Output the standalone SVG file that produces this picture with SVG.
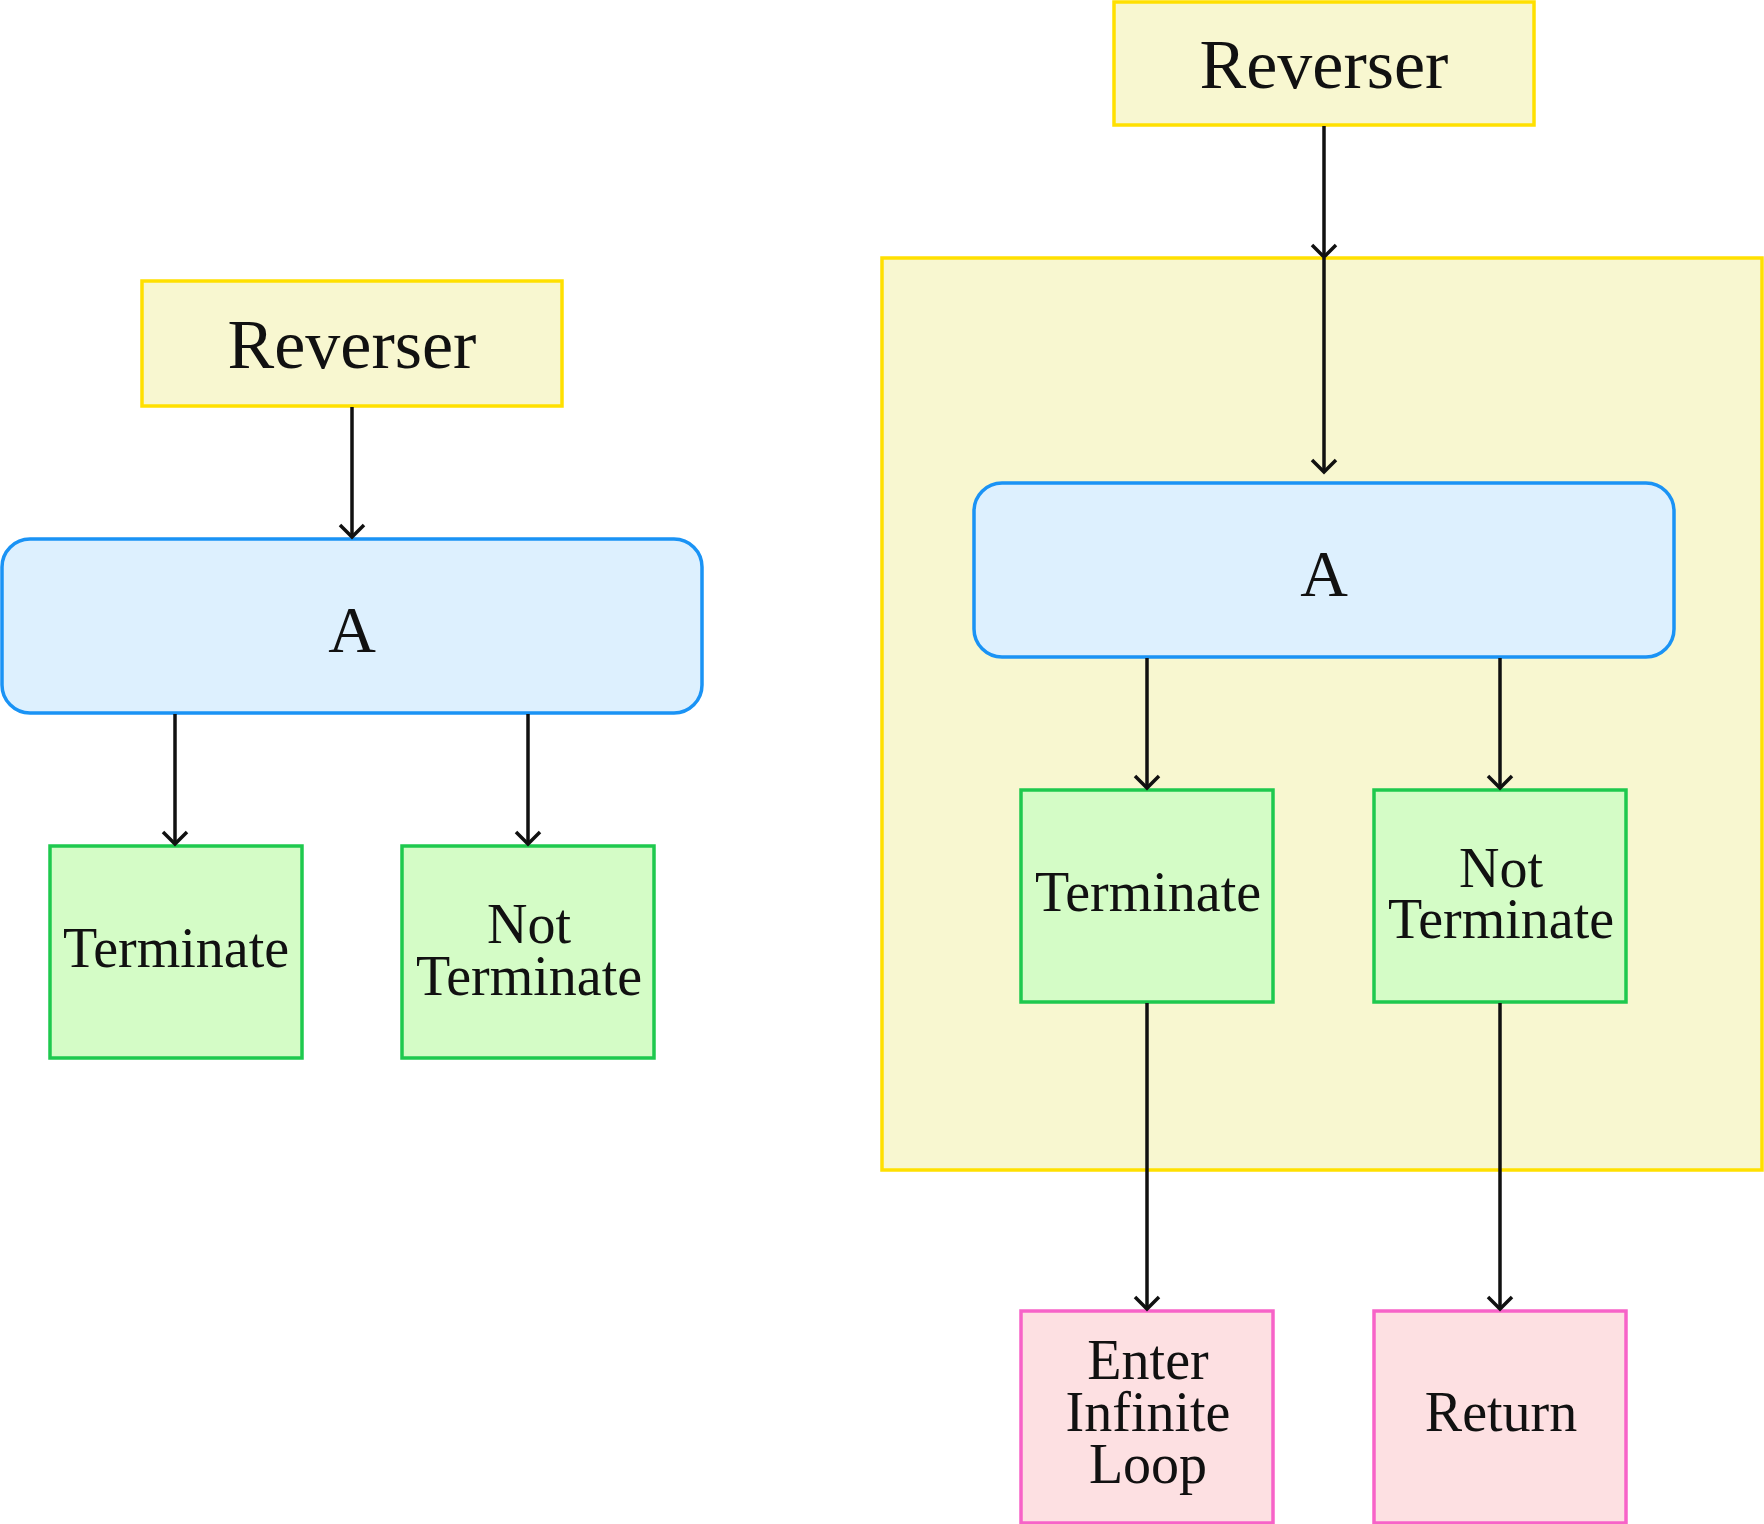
<svg xmlns="http://www.w3.org/2000/svg" width="1764" height="1524" viewBox="0 0 1764 1524">
<style>
text{font-family:"Liberation Serif",serif;fill:#111;text-anchor:middle}
.y{fill:#f8f7d0;stroke:#ffe000;stroke-width:3.5}
.b{fill:#ddf0fe;stroke:#1a93f5;stroke-width:3.5}
.g{fill:#d4fcc6;stroke:#1ec94e;stroke-width:3.5}
.p{fill:#fde0e2;stroke:#f763c8;stroke-width:3.5}
.c{stroke:#111;stroke-width:3.5;fill:none}
.t{font-size:56px}
</style>
<defs>
<marker id="av" viewBox="-15 -15 30 30" refX="0" refY="0" markerWidth="30" markerHeight="30" markerUnits="userSpaceOnUse" orient="0"><path d="M-12,-12 L0,0 L12,-12" fill="none" stroke="#111" stroke-width="3.5"/></marker></defs>
<g id="group"><rect class="y" x="882" y="258" width="880" height="912"/></g>
<g id="revL"><rect class="y" x="142" y="281" width="420" height="125"/><text x="352" y="368" font-size="70">Reverser</text></g>
<g id="aL"><rect class="b" x="2" y="539" width="700" height="174" rx="28"/><text x="352" y="652" font-size="66">A</text></g>
<g id="termL"><rect class="g" x="50" y="846" width="252" height="212"/><text class="t" x="176" y="967">Terminate</text></g>
<g id="notL"><rect class="g" x="402" y="846" width="252" height="212"/><text class="t" x="529" y="943">Not</text><text class="t" x="529" y="995">Terminate</text></g>
<g id="revR"><rect class="y" x="1114" y="2" width="420" height="123"/><text x="1324" y="88" font-size="70">Reverser</text></g>
<g id="aR"><rect class="b" x="974" y="483" width="700" height="174" rx="28"/><text x="1324" y="596" font-size="66">A</text></g>
<g id="termR"><rect class="g" x="1021" y="790" width="252" height="212"/><text class="t" x="1148" y="911">Terminate</text></g>
<g id="notR"><rect class="g" x="1374" y="790" width="252" height="212"/><text class="t" x="1501" y="887">Not</text><text class="t" x="1501" y="938">Terminate</text></g>
<g id="loop"><rect class="p" x="1021" y="1311" width="252" height="212"/><text class="t" x="1148" y="1379">Enter</text><text class="t" x="1148" y="1431">Infinite</text><text class="t" x="1148" y="1483">Loop</text></g>
<g id="ret"><rect class="p" x="1374" y="1311" width="252" height="212"/><text class="t" x="1501" y="1431">Return</text></g>
<g id="connectors">
<path class="c" d="M352,407V537" marker-end="url(#av)"/>
<path class="c" d="M175,714V844" marker-end="url(#av)"/>
<path class="c" d="M528,714V844" marker-end="url(#av)"/>
<path class="c" d="M1324,126V257" marker-end="url(#av)"/>
<path class="c" d="M1324,258V472" marker-end="url(#av)"/>
<path class="c" d="M1147,658V788" marker-end="url(#av)"/>
<path class="c" d="M1500,658V788" marker-end="url(#av)"/>
<path class="c" d="M1147,1003V1309" marker-end="url(#av)"/>
<path class="c" d="M1500,1003V1309" marker-end="url(#av)"/>
</g>
</svg>
